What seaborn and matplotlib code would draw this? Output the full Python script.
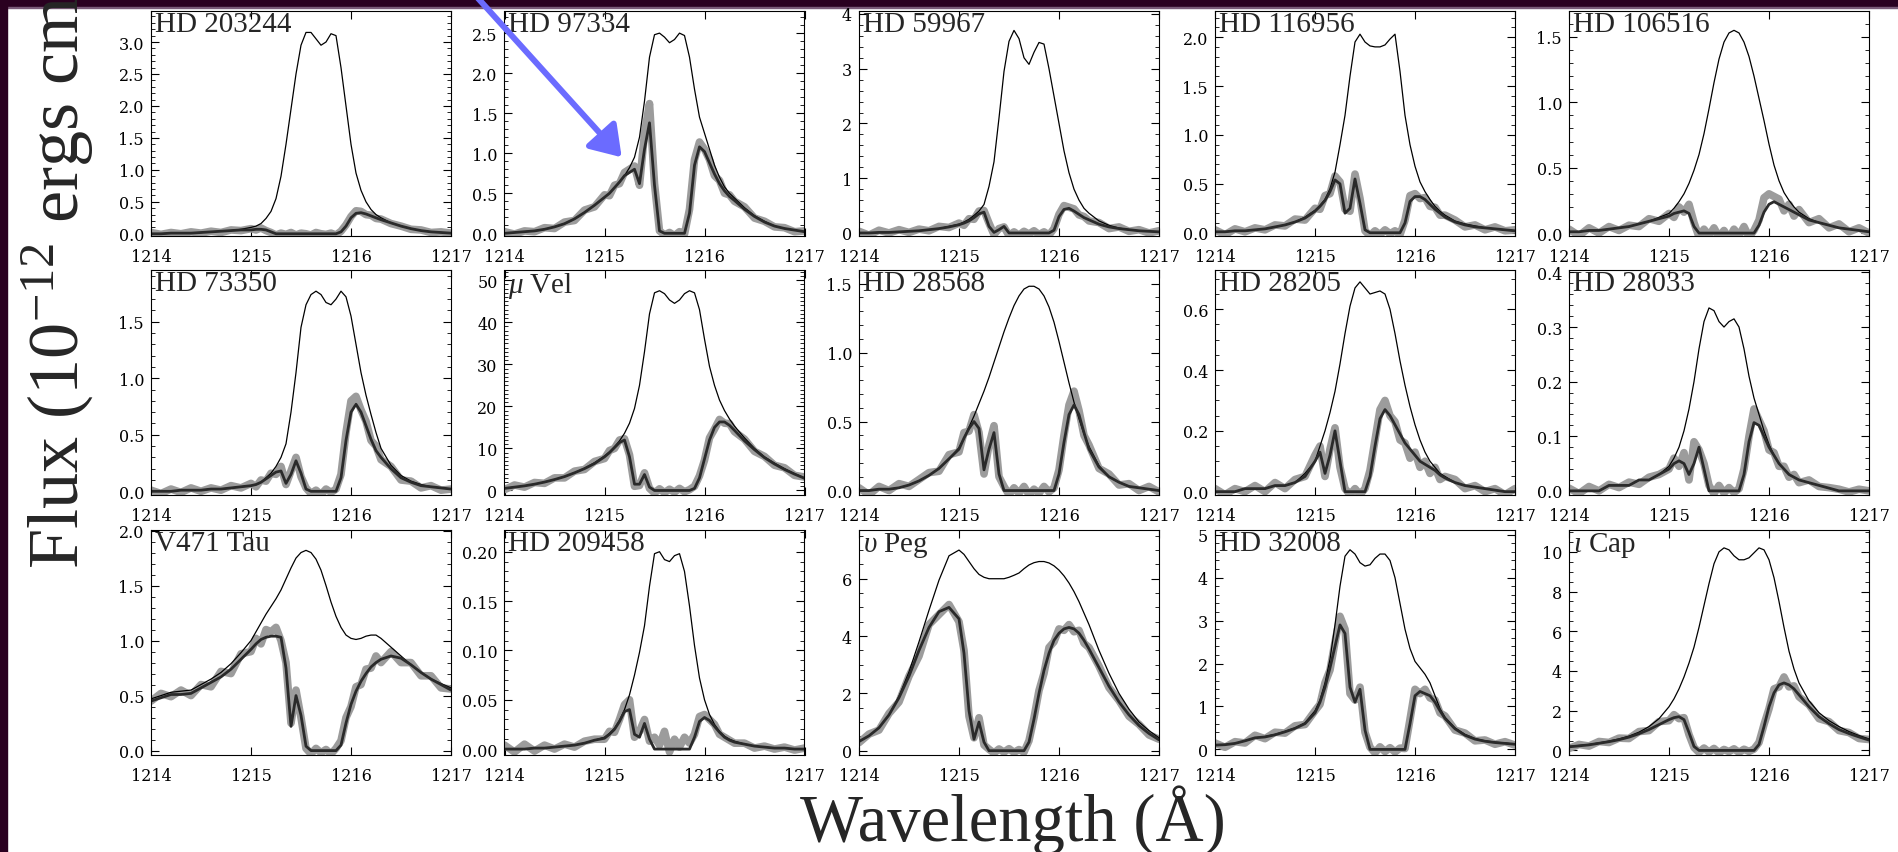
import numpy as np #Operaciones numericas
import matplotlib
matplotlib.use('Agg')
import matplotlib.pyplot as plt #Graficos
import seaborn as sns #Estilo y trazado de lineas
from matplotlib.ticker import MultipleLocator, AutoMinorLocator, NullLocator, FormatStrFormatter
from matplotlib.patches import Rectangle

#Malla de longitudes de onda (Angstrom), mas densa en el nucleo de Lyman alfa
wave = [1214.0, 1214.1, 1214.2, 1214.3, 1214.4, 1214.5, 1214.6, 1214.7, 1214.8, 1214.9,
        1215.00, 1215.05, 1215.10, 1215.15, 1215.20, 1215.25, 1215.30, 1215.35, 1215.40,
        1215.45, 1215.50, 1215.55, 1215.60, 1215.65, 1215.70, 1215.75, 1215.80, 1215.85,
        1215.90, 1215.95, 1216.00, 1216.05, 1216.10, 1216.15, 1216.20, 1216.25, 1216.30,
        1216.4, 1216.5, 1216.6, 1216.7, 1216.8, 1216.9, 1217.0]

#HD 203244
hd203244_intr = [0.00, 0.00, 0.01, 0.01, 0.01, 0.02, 0.03, 0.04, 0.05, 0.07,
                 0.10, 0.12, 0.16, 0.24, 0.35, 0.55, 0.90, 1.40, 1.95, 2.50, 2.95, 3.15, 3.15, 3.05,
                 2.95, 3.00, 3.13, 3.10, 2.60, 2.00, 1.40, 0.95, 0.68, 0.50, 0.38, 0.30, 0.25,
                 0.17, 0.12, 0.08, 0.05, 0.03, 0.02, 0.01]
hd203244_modelo = [0.00, 0.00, 0.01, 0.01, 0.01, 0.02, 0.03, 0.04, 0.05, 0.06,
                   0.06, 0.07, 0.07, 0.06, 0.03, 0.00, 0.00, 0.00, 0.00, 0.00, 0.00, 0.00, 0.00, 0.00,
                   0.00, 0.00, 0.00, 0.00, 0.03, 0.12, 0.25, 0.32, 0.33, 0.31, 0.28, 0.25, 0.22,
                   0.17, 0.12, 0.08, 0.05, 0.03, 0.02, 0.01]
hd203244_obs = [0.02, -0.01, 0.02, 0.00, 0.03, 0.01, 0.04, 0.02, 0.06, 0.05,
                0.08, 0.06, 0.09, 0.05, 0.02, -0.02, 0.01, -0.01, 0.02, -0.02, 0.01, 0.00, -0.02, 0.02,
                0.00, -0.01, 0.01, -0.02, 0.04, 0.14, 0.27, 0.36, 0.35, 0.30, 0.29, 0.24, 0.23,
                0.16, 0.12, 0.07, 0.06, 0.02, 0.03, 0.01]

#HD 97334
hd97334_intr = [0.00, 0.01, 0.02, 0.03, 0.05, 0.08, 0.12, 0.18, 0.26, 0.35,
                0.45, 0.50, 0.57, 0.64, 0.72, 0.82, 0.95, 1.20, 1.65, 2.20, 2.48, 2.50, 2.45, 2.38,
                2.42, 2.50, 2.47, 2.20, 1.80, 1.45, 1.25, 1.05, 0.85, 0.70, 0.58, 0.50, 0.44,
                0.32, 0.22, 0.15, 0.09, 0.06, 0.04, 0.02]
hd97334_modelo = [0.00, 0.01, 0.02, 0.03, 0.05, 0.08, 0.12, 0.18, 0.26, 0.35,
                  0.45, 0.50, 0.57, 0.64, 0.72, 0.76, 0.80, 0.62, 1.05, 1.38, 0.60, 0.03, 0.00, 0.00,
                  0.00, 0.00, 0.00, 0.25, 0.85, 1.08, 1.02, 0.88, 0.74, 0.62, 0.53, 0.46, 0.41,
                  0.30, 0.21, 0.14, 0.09, 0.06, 0.04, 0.02]
hd97334_obs = [0.02, -0.01, 0.03, 0.02, 0.07, 0.06, 0.14, 0.16, 0.29, 0.33,
               0.48, 0.47, 0.60, 0.62, 0.76, 0.80, 0.84, 0.60, 1.25, 1.62, 0.62, 0.03, -0.02, 0.01,
               -0.03, 0.02, -0.01, 0.30, 0.92, 1.14, 1.05, 0.92, 0.72, 0.66, 0.50, 0.48, 0.40,
               0.33, 0.19, 0.15, 0.08, 0.07, 0.02, 0.03]

#HD 59967
hd59967_intr = [0.00, 0.00, 0.01, 0.01, 0.02, 0.03, 0.04, 0.06, 0.08, 0.12,
                0.16, 0.20, 0.25, 0.32, 0.40, 0.52, 0.85, 1.30, 2.10, 2.95, 3.50, 3.70, 3.55, 3.20,
                3.08, 3.30, 3.48, 3.45, 3.00, 2.50, 2.00, 1.50, 1.10, 0.80, 0.60, 0.45, 0.36,
                0.22, 0.14, 0.09, 0.06, 0.04, 0.03, 0.02]
hd59967_modelo = [0.00, 0.00, 0.01, 0.01, 0.02, 0.03, 0.04, 0.06, 0.08, 0.11,
                  0.15, 0.18, 0.22, 0.28, 0.35, 0.38, 0.12, 0.01, 0.06, 0.12, 0.00, 0.00, 0.00, 0.00,
                  0.00, 0.00, 0.00, 0.00, 0.00, 0.05, 0.30, 0.43, 0.45, 0.40, 0.34, 0.28, 0.24,
                  0.16, 0.11, 0.08, 0.06, 0.04, 0.03, 0.02]
hd59967_obs = [0.03, -0.04, 0.05, 0.00, 0.06, 0.01, 0.07, 0.04, 0.12, 0.10,
               0.18, 0.14, 0.26, 0.25, 0.40, 0.41, 0.18, -0.03, 0.08, 0.11, -0.05, 0.02, -0.04, 0.03,
               -0.02, 0.04, -0.03, 0.02, -0.04, 0.08, 0.34, 0.50, 0.47, 0.44, 0.33, 0.30, 0.22,
               0.19, 0.08, 0.11, 0.03, 0.06, 0.00, 0.04]

#HD 116956
hd116956_intr = [0.01, 0.01, 0.02, 0.02, 0.03, 0.04, 0.06, 0.08, 0.11, 0.16,
                 0.23, 0.28, 0.34, 0.45, 0.62, 0.90, 1.20, 1.60, 1.95, 2.03, 1.95, 1.91, 1.90, 1.90,
                 1.92, 1.98, 2.03, 1.65, 1.20, 0.90, 0.68, 0.52, 0.42, 0.34, 0.27, 0.22, 0.18,
                 0.12, 0.09, 0.07, 0.05, 0.04, 0.03, 0.02]
hd116956_modelo = [0.01, 0.01, 0.02, 0.02, 0.03, 0.04, 0.06, 0.08, 0.11, 0.15,
                   0.22, 0.27, 0.33, 0.42, 0.54, 0.50, 0.20, 0.25, 0.55, 0.30, 0.03, 0.00, 0.00, 0.00,
                   0.00, 0.00, 0.00, 0.00, 0.10, 0.32, 0.37, 0.37, 0.34, 0.29, 0.24, 0.20, 0.16,
                   0.11, 0.08, 0.06, 0.05, 0.04, 0.03, 0.02]
hd116956_obs = [0.03, -0.02, 0.04, 0.01, 0.05, 0.03, 0.08, 0.07, 0.14, 0.13,
                0.25, 0.24, 0.38, 0.40, 0.58, 0.52, 0.24, 0.22, 0.60, 0.35, 0.02, -0.03, 0.02, -0.02,
                0.03, -0.01, 0.02, -0.02, 0.13, 0.38, 0.40, 0.35, 0.36, 0.27, 0.26, 0.18, 0.18,
                0.13, 0.06, 0.08, 0.03, 0.06, 0.02, 0.03]

#HD 106516
hd106516_intr = [0.01, 0.01, 0.02, 0.02, 0.03, 0.04, 0.05, 0.07, 0.09, 0.12,
                 0.15, 0.19, 0.24, 0.30, 0.38, 0.48, 0.60, 0.76, 0.95, 1.15, 1.33, 1.46, 1.53, 1.55,
                 1.53, 1.46, 1.35, 1.20, 1.03, 0.86, 0.68, 0.52, 0.40, 0.31, 0.25, 0.20, 0.16,
                 0.11, 0.08, 0.06, 0.04, 0.03, 0.02, 0.01]
hd106516_modelo = [0.01, 0.01, 0.02, 0.02, 0.03, 0.04, 0.05, 0.07, 0.09, 0.11,
                   0.13, 0.15, 0.16, 0.17, 0.15, 0.05, 0.00, 0.00, 0.00, 0.00, 0.00, 0.00, 0.00, 0.00,
                   0.00, 0.00, 0.00, 0.00, 0.06, 0.16, 0.22, 0.24, 0.22, 0.20, 0.18, 0.16, 0.14,
                   0.10, 0.08, 0.06, 0.04, 0.03, 0.02, 0.01]
hd106516_obs = [0.03, -0.02, 0.04, 0.00, 0.05, 0.02, 0.06, 0.05, 0.11, 0.09,
                0.15, 0.12, 0.20, 0.16, 0.22, 0.08, -0.03, 0.03, -0.02, 0.04, -0.03, 0.02, -0.04, 0.03,
                -0.02, 0.05, -0.03, 0.02, 0.10, 0.27, 0.30, 0.28, 0.26, 0.17, 0.22, 0.13, 0.18,
                0.08, 0.11, 0.04, 0.07, 0.01, 0.04, 0.00]

#HD 73350
hd73350_intr = [0.00, 0.00, 0.00, 0.01, 0.01, 0.01, 0.02, 0.02, 0.03, 0.04,
                0.05, 0.06, 0.08, 0.12, 0.16, 0.22, 0.30, 0.42, 0.70, 1.05, 1.45, 1.65, 1.74, 1.77,
                1.74, 1.67, 1.65, 1.70, 1.77, 1.72, 1.55, 1.30, 1.05, 0.85, 0.68, 0.52, 0.38,
                0.23, 0.14, 0.09, 0.06, 0.04, 0.03, 0.02]
hd73350_modelo = [0.00, 0.00, 0.00, 0.01, 0.01, 0.01, 0.02, 0.02, 0.03, 0.04,
                  0.05, 0.06, 0.08, 0.11, 0.14, 0.17, 0.18, 0.07, 0.15, 0.27, 0.16, 0.02, 0.00, 0.00,
                  0.00, 0.00, 0.00, 0.00, 0.12, 0.45, 0.70, 0.77, 0.70, 0.58, 0.46, 0.36, 0.30,
                  0.20, 0.12, 0.08, 0.05, 0.04, 0.03, 0.02]
hd73350_obs = [0.01, -0.02, 0.02, -0.01, 0.03, 0.00, 0.03, 0.01, 0.05, 0.03,
               0.07, 0.04, 0.10, 0.09, 0.16, 0.15, 0.22, 0.06, 0.18, 0.30, 0.13, 0.03, -0.02, 0.01,
               -0.03, 0.02, -0.01, 0.02, 0.15, 0.52, 0.80, 0.84, 0.72, 0.62, 0.45, 0.40, 0.28,
               0.22, 0.10, 0.09, 0.03, 0.05, 0.01, 0.02]

#mu Vel
muvel_intr = [0.5, 0.8, 1.1, 1.5, 2.0, 2.6, 3.3, 4.2, 5.3, 6.6,
              8.2, 9.2, 10.4, 11.8, 13.6, 16.0, 19.5, 25.0, 33.0, 42.0, 47.0, 47.5, 46.8, 45.3,
              44.5, 45.3, 46.8, 47.5, 47.0, 43.0, 36.0, 29.5, 25.0, 21.5, 19.0, 17.0, 15.3,
              12.5, 10.0, 8.0, 6.5, 5.2, 4.0, 3.0]
muvel_modelo = [0.5, 0.8, 1.1, 1.5, 2.0, 2.6, 3.3, 4.2, 5.2, 6.4,
                8.0, 9.0, 10.2, 11.4, 12.0, 8.0, 1.5, 1.5, 3.8, 0.8, 0.0, 0.0, 0.0, 0.0,
                0.0, 0.0, 0.0, 0.0, 0.5, 3.0, 7.5, 12.0, 15.0, 16.3, 16.3, 15.5, 14.3,
                11.8, 9.7, 7.8, 6.3, 5.0, 3.9, 2.9]
muvel_obs = [0.2, 1.3, 0.8, 1.9, 1.7, 3.0, 3.0, 4.6, 5.0, 6.9,
             7.6, 9.5, 10.0, 12.0, 12.3, 8.5, 1.0, 1.2, 4.2, 0.5, -0.6, 0.4, -0.5, 0.3,
             -0.4, 0.5, -0.3, 0.2, 1.0, 3.5, 7.2, 12.5, 14.6, 16.9, 16.0, 15.9, 14.0,
             12.2, 9.3, 8.1, 6.0, 5.4, 3.6, 3.2]

#HD 28568
hd28568_intr = [0.00, 0.00, 0.01, 0.01, 0.02, 0.04, 0.07, 0.11, 0.16, 0.23,
                0.31, 0.38, 0.46, 0.54, 0.63, 0.72, 0.82, 0.93, 1.04, 1.15, 1.25, 1.34, 1.41, 1.46,
                1.48, 1.48, 1.46, 1.41, 1.33, 1.22, 1.08, 0.93, 0.78, 0.64, 0.52, 0.41, 0.32,
                0.18, 0.10, 0.06, 0.03, 0.02, 0.01, 0.00]
hd28568_modelo = [0.00, 0.00, 0.01, 0.01, 0.02, 0.04, 0.07, 0.11, 0.16, 0.23,
                  0.30, 0.38, 0.45, 0.50, 0.45, 0.15, 0.30, 0.42, 0.12, 0.00, 0.00, 0.00, 0.00, 0.00,
                  0.00, 0.00, 0.00, 0.00, 0.00, 0.00, 0.12, 0.35, 0.55, 0.62, 0.55, 0.42, 0.30,
                  0.17, 0.10, 0.06, 0.03, 0.02, 0.01, 0.00]
hd28568_obs = [0.02, -0.03, 0.03, 0.00, 0.05, 0.03, 0.08, 0.13, 0.14, 0.26,
               0.28, 0.42, 0.43, 0.55, 0.42, 0.12, 0.33, 0.47, 0.10, 0.03, -0.03, 0.02, -0.02, 0.03,
               -0.03, 0.01, -0.02, 0.03, -0.01, 0.02, 0.15, 0.40, 0.62, 0.72, 0.58, 0.40, 0.33,
               0.16, 0.12, 0.04, 0.05, 0.00, 0.03, -0.01]

#HD 28205
hd28205_intr = [0.00, 0.00, 0.00, 0.01, 0.01, 0.01, 0.02, 0.02, 0.03, 0.06,
                0.10, 0.15, 0.20, 0.26, 0.33, 0.42, 0.52, 0.61, 0.67, 0.69, 0.67, 0.65, 0.655, 0.66,
                0.65, 0.60, 0.52, 0.43, 0.35, 0.28, 0.22, 0.17, 0.13, 0.10, 0.08, 0.06, 0.05,
                0.03, 0.02, 0.015, 0.01, 0.005, 0.00, 0.00]
hd28205_modelo = [0.00, 0.00, 0.00, 0.01, 0.01, 0.01, 0.02, 0.02, 0.03, 0.05,
                  0.10, 0.13, 0.06, 0.12, 0.20, 0.10, 0.00, 0.00, 0.00, 0.00, 0.00, 0.05, 0.15, 0.24,
                  0.27, 0.25, 0.22, 0.19, 0.16, 0.14, 0.12, 0.10, 0.09, 0.08, 0.07, 0.055, 0.045,
                  0.03, 0.02, 0.015, 0.01, 0.005, 0.00, 0.00]
hd28205_obs = [0.01, -0.01, 0.01, 0.00, 0.02, 0.00, 0.03, 0.01, 0.04, 0.05,
               0.12, 0.15, 0.05, 0.14, 0.21, 0.08, 0.01, -0.01, 0.01, -0.01, 0.01, 0.07, 0.17, 0.27,
               0.30, 0.25, 0.23, 0.17, 0.16, 0.11, 0.13, 0.08, 0.10, 0.06, 0.08, 0.04, 0.05,
               0.04, 0.01, 0.02, 0.00, 0.01, -0.01, 0.01]

#HD 28033
hd28033_intr = [0.00, 0.00, 0.00, 0.00, 0.01, 0.01, 0.01, 0.02, 0.02, 0.03,
                0.045, 0.06, 0.08, 0.11, 0.15, 0.20, 0.26, 0.31, 0.335, 0.33, 0.31, 0.30, 0.31, 0.315,
                0.30, 0.26, 0.21, 0.17, 0.14, 0.11, 0.085, 0.065, 0.05, 0.04, 0.03, 0.025, 0.02,
                0.015, 0.01, 0.005, 0.00, 0.00, 0.00, 0.00]
hd28033_modelo = [0.00, 0.00, 0.00, 0.00, 0.01, 0.01, 0.01, 0.02, 0.02, 0.03,
                  0.04, 0.05, 0.055, 0.05, 0.03, 0.05, 0.08, 0.04, 0.00, 0.00, 0.00, 0.00, 0.00, 0.00,
                  0.00, 0.03, 0.09, 0.125, 0.12, 0.10, 0.08, 0.065, 0.05, 0.04, 0.03, 0.025, 0.02,
                  0.015, 0.01, 0.005, 0.00, 0.00, 0.00, 0.00]
hd28033_obs = [0.005, -0.005, 0.008, 0.0, 0.012, 0.006, 0.016, 0.012, 0.025, 0.03,
               0.04, 0.06, 0.045, 0.07, 0.02, 0.09, 0.075, 0.05, 0.01, -0.005, 0.01, -0.004, 0.006, -0.003,
               0.004, 0.04, 0.10, 0.15, 0.13, 0.11, 0.075, 0.07, 0.045, 0.045, 0.025, 0.03, 0.015,
               0.02, 0.008, 0.006, 0.003, -0.002, 0.003, 0.0]

#V471 Tau
v471tau_intr = [0.47, 0.50, 0.53, 0.54, 0.55, 0.60, 0.65, 0.71, 0.79, 0.89,
                1.00, 1.08, 1.16, 1.24, 1.31, 1.38, 1.46, 1.56, 1.66, 1.75, 1.80, 1.82, 1.80, 1.74,
                1.64, 1.50, 1.35, 1.22, 1.12, 1.05, 1.02, 1.01, 1.02, 1.04, 1.05, 1.05, 1.02,
                0.94, 0.86, 0.78, 0.71, 0.65, 0.61, 0.57]
v471tau_modelo = [0.45, 0.48, 0.51, 0.51, 0.52, 0.57, 0.62, 0.67, 0.74, 0.83,
                  0.92, 0.97, 1.01, 1.03, 1.04, 1.04, 1.03, 0.75, 0.22, 0.50, 0.32, 0.04, 0.00, 0.00,
                  0.00, 0.00, 0.00, 0.00, 0.05, 0.25, 0.42, 0.54, 0.63, 0.70, 0.76, 0.80, 0.83,
                  0.86, 0.84, 0.78, 0.71, 0.65, 0.60, 0.55]
v471tau_obs = [0.45, 0.52, 0.49, 0.55, 0.50, 0.60, 0.58, 0.72, 0.70, 0.88,
               0.90, 1.02, 0.97, 1.10, 1.08, 1.12, 1.00, 0.80, 0.25, 0.55, 0.30, 0.02, -0.03, 0.02,
               -0.02, 0.01, -0.03, 0.02, 0.09, 0.30, 0.40, 0.58, 0.60, 0.74, 0.75, 0.86, 0.80,
               0.90, 0.80, 0.80, 0.68, 0.68, 0.57, 0.56]

#HD 209458
hd209458_intr = [0.000, 0.000, 0.000, 0.001, 0.001, 0.002, 0.003, 0.004, 0.006, 0.009,
                 0.012, 0.016, 0.021, 0.029, 0.040, 0.055, 0.075, 0.098, 0.125, 0.165, 0.198, 0.200,
                 0.192, 0.190, 0.196, 0.198, 0.180, 0.145, 0.105, 0.072, 0.050, 0.035, 0.025, 0.018,
                 0.013, 0.010, 0.008,
                 0.005, 0.003, 0.002, 0.001, 0.001, 0.000, 0.000]
hd209458_modelo = [0.000, 0.000, 0.000, 0.001, 0.001, 0.002, 0.003, 0.004, 0.006, 0.009,
                   0.011, 0.015, 0.020, 0.028, 0.038, 0.040, 0.015, 0.012, 0.026, 0.010, 0.000, 0.000,
                   0.000, 0.000, 0.000, 0.000, 0.000, 0.000, 0.012, 0.028, 0.032, 0.029, 0.023, 0.017,
                   0.012, 0.009, 0.007,
                   0.005, 0.003, 0.002, 0.001, 0.001, 0.000, 0.000]
hd209458_obs = [0.004, -0.003, 0.005, -0.002, 0.004, 0.000, 0.005, 0.002, 0.008, 0.010,
                0.010, 0.018, 0.017, 0.030, 0.045, 0.050, 0.012, 0.018, 0.030, 0.008, 0.012, 0.004,
                0.018, -0.003, 0.010, 0.002, 0.012, 0.006, 0.015, 0.033, 0.035, 0.030, 0.025, 0.015,
                0.012, 0.009, 0.006,
                0.006, 0.001, 0.003, 0.000, 0.002, -0.001, 0.001]

#upsilon Peg
upspeg_intr = [0.32, 0.52, 0.80, 1.25, 1.90, 2.75, 3.80, 4.90, 5.95, 6.80,
               7.00, 6.85, 6.60, 6.35, 6.15, 6.05, 6.00, 6.00, 6.00, 6.00, 6.05, 6.12, 6.20, 6.35,
               6.48, 6.56, 6.60, 6.60, 6.55, 6.45, 6.30, 6.10, 5.85, 5.55, 5.20, 4.80, 4.40,
               3.50, 2.70, 2.00, 1.45, 1.00, 0.70, 0.45]
upspeg_modelo = [0.32, 0.52, 0.80, 1.25, 1.85, 2.60, 3.50, 4.30, 4.85, 5.00,
                 4.60, 3.40, 1.40, 0.40, 1.00, 0.30, 0.00, 0.00, 0.00, 0.00, 0.00, 0.00, 0.00, 0.00,
                 0.30, 1.10, 2.00, 2.80, 3.40, 3.85, 4.10, 4.25, 4.30, 4.25, 4.10, 3.85, 3.55,
                 2.90, 2.25, 1.70, 1.25, 0.88, 0.60, 0.38]
upspeg_obs = [0.28, 0.58, 0.72, 1.30, 1.70, 2.60, 3.30, 4.40, 4.75, 5.10,
              4.50, 3.50, 1.20, 0.45, 1.15, 0.20, 0.05, -0.08, 0.06, -0.05, 0.07, -0.06, 0.04, -0.05,
              0.35, 1.15, 2.10, 2.70, 3.60, 3.80, 4.25, 4.20, 4.40, 4.15, 4.20, 3.75, 3.60,
              2.95, 2.20, 1.75, 1.20, 0.92, 0.55, 0.40]

#HD 32008
hd32008_intr = [0.10, 0.11, 0.14, 0.20, 0.27, 0.30, 0.35, 0.42, 0.50, 0.62,
                0.90, 1.15, 1.55, 2.10, 2.90, 3.80, 4.50, 4.65, 4.55, 4.35, 4.27, 4.30, 4.45, 4.55,
                4.55, 4.40, 4.00, 3.40, 2.80, 2.35, 2.05, 1.90, 1.75, 1.55, 1.25, 0.95, 0.75,
                0.50, 0.35, 0.25, 0.20, 0.17, 0.15, 0.12]
hd32008_modelo = [0.10, 0.11, 0.14, 0.20, 0.27, 0.29, 0.34, 0.41, 0.49, 0.60,
                  0.85, 1.10, 1.45, 1.90, 2.40, 2.90, 2.70, 1.45, 1.10, 1.40, 0.45, 0.00, 0.00, 0.00,
                  0.00, 0.00, 0.00, 0.00, 0.00, 0.60, 1.25, 1.35, 1.30, 1.25, 1.10, 0.90, 0.72,
                  0.48, 0.33, 0.24, 0.19, 0.16, 0.14, 0.12]
hd32008_obs = [0.15, 0.05, 0.18, 0.15, 0.33, 0.25, 0.40, 0.38, 0.55, 0.58,
               0.90, 1.05, 1.55, 1.85, 2.50, 3.10, 2.80, 1.30, 1.15, 1.45, 0.40, 0.05, -0.08, 0.06,
               -0.05, 0.04, -0.06, 0.03, 0.02, 0.70, 1.40, 1.30, 1.40, 1.20, 1.15, 0.85, 0.78,
               0.45, 0.38, 0.20, 0.22, 0.12, 0.18, 0.10]

#iota Cap
iotacap_intr = [0.20, 0.25, 0.30, 0.38, 0.47, 0.58, 0.72, 0.92, 1.20, 1.60,
                2.20, 2.60, 3.10, 3.70, 4.40, 5.20, 6.20, 7.30, 8.40, 9.40, 10.00, 10.20, 10.10, 9.80,
                9.60, 9.60, 9.70, 9.95, 10.20, 10.10, 9.60, 8.70, 7.50, 6.20, 5.00, 4.10, 3.40,
                2.50, 1.90, 1.50, 1.20, 0.95, 0.75, 0.58]
iotacap_modelo = [0.18, 0.23, 0.28, 0.36, 0.44, 0.54, 0.67, 0.84, 1.05, 1.30,
                  1.55, 1.65, 1.70, 1.55, 0.90, 0.20, 0.00, 0.00, 0.00, 0.00, 0.00, 0.00, 0.00, 0.00,
                  0.00, 0.00, 0.00, 0.00, 0.30, 1.20, 2.20, 2.90, 3.30, 3.40, 3.30, 3.10, 2.80,
                  2.20, 1.70, 1.35, 1.05, 0.85, 0.68, 0.52]
iotacap_obs = [0.10, 0.30, 0.22, 0.45, 0.40, 0.62, 0.60, 0.95, 1.00, 1.45,
               1.50, 1.80, 1.60, 1.65, 0.80, 0.15, -0.10, 0.12, -0.08, 0.10, -0.12, 0.05, -0.06, 0.08,
               -0.10, 0.06, -0.05, 0.07, 0.40, 1.30, 2.10, 3.10, 3.20, 3.70, 3.20, 3.25, 2.70,
               2.30, 1.60, 1.45, 1.00, 0.90, 0.60, 0.55]

#Nombres de las estrellas, en el orden de los paneles
estrellas = ['HD 203244', 'HD 97334', 'HD 59967', 'HD 116956', 'HD 106516',
             'HD 73350', r'$\mu$ Vel', 'HD 28568', 'HD 28205', 'HD 28033',
             'V471 Tau', 'HD 209458', r'$\upsilon$ Peg', 'HD 32008', r'$\iota$ Cap']
intrinsecos = [hd203244_intr, hd97334_intr, hd59967_intr, hd116956_intr, hd106516_intr,
               hd73350_intr, muvel_intr, hd28568_intr, hd28205_intr, hd28033_intr,
               v471tau_intr, hd209458_intr, upspeg_intr, hd32008_intr, iotacap_intr]
modelos = [hd203244_modelo, hd97334_modelo, hd59967_modelo, hd116956_modelo, hd106516_modelo,
           hd73350_modelo, muvel_modelo, hd28568_modelo, hd28205_modelo, hd28033_modelo,
           v471tau_modelo, hd209458_modelo, upspeg_modelo, hd32008_modelo, iotacap_modelo]
observados = [hd203244_obs, hd97334_obs, hd59967_obs, hd116956_obs, hd106516_obs,
              hd73350_obs, muvel_obs, hd28568_obs, hd28205_obs, hd28033_obs,
              v471tau_obs, hd209458_obs, upspeg_obs, hd32008_obs, iotacap_obs]

#Configuracion del eje y de cada panel
limites_y = [(-0.03, 3.49), (-0.03, 2.78), (-0.05, 4.06), (-0.03, 2.27), (-0.02, 1.70),
             (-0.03, 1.96), (-1.0, 52.5), (-0.03, 1.60), (-0.01, 0.73), (-0.007, 0.405),
             (-0.04, 2.005), (-0.006, 0.222), (-0.15, 7.7), (-0.13, 5.11), (-0.23, 11.1)]
paso_y = [0.5, 0.5, 1, 0.5, 0.5, 0.5, 10, 0.5, 0.2, 0.1, 0.5, 0.05, 2, 1, 2]
menores_y = [5, 5, 5, 5, 5, 5, 10, 5, 4, 5, 5, 5, 4, 5, 4]
formato_y = ['%.1f', '%.1f', '%d', '%.1f', '%.1f', '%.1f', '%d', '%.1f', '%.1f', '%.1f',
             '%.1f', '%.2f', '%d', '%d', '%d']

sns.set_theme(style='ticks', rc={'axes.edgecolor': 'black', 'xtick.color': 'black',
                                 'ytick.color': 'black', 'axes.linewidth': 0.8})
plt.rcParams['font.family'] = ['DejaVu Serif', 'DejaVu Sans'] #Numeros de los ejes
plt.rcParams['mathtext.fontset'] = 'custom'
plt.rcParams['mathtext.rm'] = 'Liberation Serif'
plt.rcParams['mathtext.it'] = 'Liberation Serif:italic'
serif = ['Liberation Serif', 'DejaVu Serif'] #Titulos y etiquetas

W, H = 1899, 853
fig = plt.figure(figsize=(W / 100, H / 100), dpi=100, facecolor='white')

#Bandas oscuras del borde (diapositiva)
fig.add_artist(Rectangle((0, 1 - 7.5 / H), 1, 7.5 / H, transform=fig.transFigure,
                         color='#2a0020', zorder=0))
fig.add_artist(Rectangle((0, 1 - 8.5 / H), 1, 1.0 / H, transform=fig.transFigure,
                         color='#7a5a78', zorder=0))
fig.add_artist(Rectangle((0, 0), 7.5 / W, 1, transform=fig.transFigure,
                         color='#2a0020', zorder=0))

#Posiciones de los paneles en pixeles
izquierdas = [151, 504.5, 859, 1215, 1569]
superiores = [11.7, 270.7, 531]
ancho, alto = 300, 225

ejes = []
for i in range(15):
    fila, col = divmod(i, 5)
    ax = fig.add_axes([izquierdas[col] / W, (H - superiores[fila] - alto) / H, ancho / W, alto / H])
    ejes.append(ax)

    #Datos observados (gris), perfil intrinseco (linea fina) y modelo (linea gruesa)
    sns.lineplot(x=wave, y=observados[i], ax=ax, color='#9c9c9c', linewidth=5.5,
                 estimator=None, sort=False)
    sns.lineplot(x=wave, y=intrinsecos[i], ax=ax, color='black', linewidth=0.9,
                 estimator=None, sort=False)
    sns.lineplot(x=wave, y=modelos[i], ax=ax, color='#2a2a2a', linewidth=2.0,
                 estimator=None, sort=False)

    ax.set_xlim(1214, 1217)
    ax.set_ylim(*limites_y[i])
    ax.set_xticks([1214, 1215, 1216, 1217])
    ax.xaxis.set_minor_locator(NullLocator())
    ax.yaxis.set_major_locator(MultipleLocator(paso_y[i]))
    ax.yaxis.set_minor_locator(AutoMinorLocator(menores_y[i]))
    ax.yaxis.set_major_formatter(FormatStrFormatter(formato_y[i]))
    ax.tick_params(which='both', direction='in', top=True, right=True, labelsize=11.5)
    ax.tick_params(which='major', length=6, width=0.8)
    ax.tick_params(which='minor', length=3, width=0.6)
    ax.tick_params(axis='x', pad=9)
    ax.tick_params(axis='y', pad=5)
    ax.set_xlabel('')
    ax.set_ylabel('')
    for s in ax.spines.values():
        s.set_linewidth(0.8)
        s.set_color('black')

    ax.text(0.012, 1.0, estrellas[i], transform=ax.transAxes, ha='left', va='top',
            fontsize=21, family=serif)

#Etiquetas comunes de los ejes
fig.text(1013 / W, 11 / H, 'Wavelength (Å)', ha='center', va='baseline', fontsize=48, family=serif)
fig.text(95 / W, (H - 569) / H, r'Flux (10$^{-12}$ ergs cm$^{-2}$ s$^{-1}$ Å$^{-1}$)',
         rotation=90, ha='right', va='bottom', fontsize=52, family=serif)

#Flecha azul que senala el ala azul de HD 97334
ejes[1].annotate('', xy=(621.7, H - 158.3), xycoords='figure pixels',
                 xytext=(466, H + 14), textcoords='figure pixels',
                 arrowprops=dict(arrowstyle='-|>,head_length=0.45,head_width=0.3',
                                 color='#6b6bff', lw=4.3, mutation_scale=40,
                                 shrinkA=0, shrinkB=0),
                 annotation_clip=False, zorder=10)

fig.savefig('out.png', dpi=100, facecolor='white')
